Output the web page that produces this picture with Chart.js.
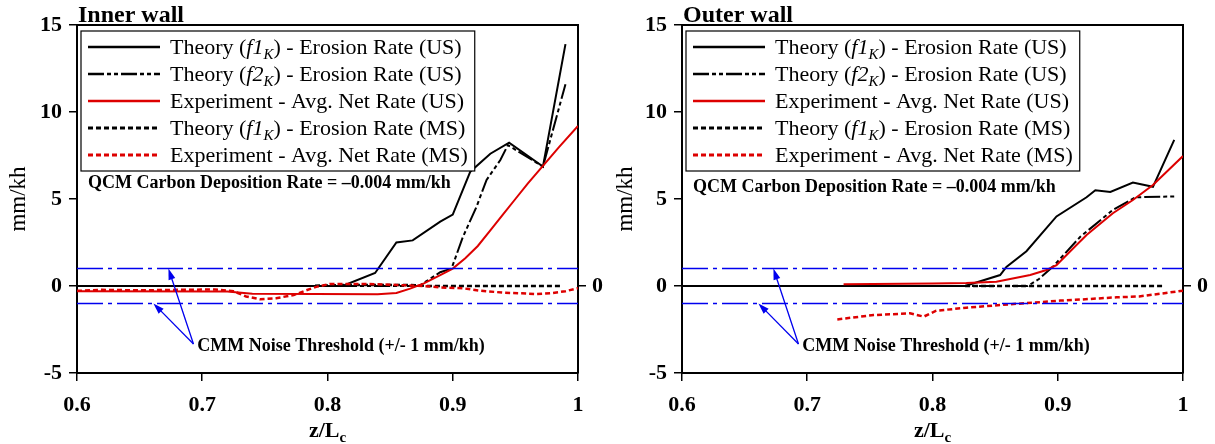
<!DOCTYPE html>
<html>
<head>
<meta charset="utf-8">
<title>Inner / Outer wall</title>
<script src="https://cdn.jsdelivr.net/npm/chart.js@4.4.1/dist/chart.umd.min.js"></script>
<style>
  html, body { margin: 0; padding: 0; background: #fff; }
  #wrap { position: relative; width: 1215px; height: 444px; }
  .panel { position: absolute; top: 0; height: 444px; }
  #p1 { left: 0; width: 607px; }
  #p2 { left: 607px; width: 608px; }
</style>
</head>
<body>
<div id="wrap">
  <div class="panel" id="p1"><canvas id="inner"></canvas></div>
  <div class="panel" id="p2"><canvas id="outer"></canvas></div>
</div>
<script>
// ---- values ----
var xTicks = [0.6, 0.7, 0.8, 0.9, 1];
var xTickLabels = ["0.6", "0.7", "0.8", "0.9", "1"];
var yTicks = [-5, 0, 5, 10, 15];
var yTickLabels = ["-5", "0", "5", "10", "15"];

var seriesLabels = [
  "Theory (f1K) - Erosion Rate (US)",
  "Theory (f2K) - Erosion Rate (US)",
  "Experiment - Avg. Net Rate (US)",
  "Theory (f1K) - Erosion Rate (MS)",
  "Experiment - Avg. Net Rate (MS)",
];

// CMM noise threshold
var noiseZ = [0.6, 1.0];
var noiseLevels = [1, -1];

// inner wall
var inF1usZ = [0.6, 0.812, 0.838, 0.855, 0.868, 0.89, 0.9, 0.914, 0.93, 0.945, 0.972, 0.99];
var inF1usV = [0, 0, 0.75, 2.5, 2.62, 3.7, 4.1, 6.57, 7.6, 8.24, 6.86, 13.9];
var inF2usZ = [0.6, 0.873, 0.89, 0.899, 0.908, 0.919, 0.927, 0.938, 0.944, 0.972, 0.99];
var inF2usV = [0, 0, 0.79, 1.0, 2.8, 4.56, 6.1, 7.24, 8.1, 6.86, 11.6];
var inExpUsZ = [0.6, 0.72, 0.74, 0.84, 0.855, 0.866, 0.877, 0.89, 0.9, 0.91, 0.92, 0.93, 0.94, 0.95, 0.96, 0.972, 0.985, 1.0];
var inExpUsV = [-0.3, -0.32, -0.45, -0.47, -0.4, -0.15, 0.15, 0.63, 1.0, 1.6, 2.3, 3.2, 4.1, 5.0, 5.9, 6.9, 8.0, 9.2];
var inF1msZ = [0.79, 0.82, 0.87, 0.88, 0.987];
var inF1msV = [0.02, 0.06, 0.05, 0, 0];
var inExpMsZ = [0.6, 0.62, 0.65, 0.68, 0.71, 0.725, 0.735, 0.746, 0.759, 0.773, 0.783, 0.791, 0.802, 0.83, 0.855, 0.877, 0.89, 0.908, 0.922, 0.94, 0.955, 0.967, 0.98, 0.99, 1.0];
var inExpMsV = [-0.28, -0.22, -0.25, -0.22, -0.2, -0.3, -0.6, -0.76, -0.7, -0.52, -0.25, -0.05, 0.12, 0.12, 0.06, 0.0, -0.08, -0.13, -0.27, -0.38, -0.42, -0.46, -0.4, -0.3, -0.12];

// outer wall
var outF1usZ = [0.6, 0.826, 0.854, 0.859, 0.875, 0.899, 0.923, 0.93, 0.942, 0.96, 0.976, 0.993];
var outF1usV = [0, 0, 0.63, 1.1, 2.0, 4.0, 5.1, 5.5, 5.4, 5.95, 5.7, 8.4];
var outF2usZ = [0.6, 0.876, 0.885, 0.896, 0.918, 0.944, 0.962, 0.993];
var outF2usV = [0, 0, 0.4, 1.1, 2.83, 4.37, 5.1, 5.15];
var outExpUsZ = [0.729, 0.8, 0.827, 0.851, 0.878, 0.891, 0.899, 0.91, 0.923, 0.944, 0.96, 0.976, 1.0];
var outExpUsV = [0.1, 0.15, 0.17, 0.25, 0.63, 0.92, 1.2, 2.0, 2.93, 4.18, 4.94, 5.8, 7.47];
var outF1msZ = [0.826, 0.984];
var outF1msV = [0, 0];
var outExpMsZ = [0.724, 0.753, 0.782, 0.793, 0.803, 0.827, 0.854, 0.88, 0.902, 0.92, 0.947, 0.965, 0.98, 1.0];
var outExpMsV = [-1.92, -1.67, -1.57, -1.76, -1.42, -1.25, -1.09, -0.96, -0.84, -0.77, -0.65, -0.6, -0.46, -0.27];

// annotation anchors (data units)
var arrowTail = [0.693, -3.33];
var arrowHeadZ = [0.673, 0.661];
var arrowHeadV = [1, -1];
var cmmText = "CMM Noise Threshold (+/- 1 mm/kh)";
var cmmPos = [0.696, -3.45];
var qcmText = "QCM Carbon Deposition Rate = \u20130.004 mm/kh";

var SERIF = "'Liberation Serif', 'Times New Roman', serif";
var RED = "#dd0000";
var BLUE = "#0000ee";

function pts(zs, vs) {
  return zs.map(function (z, i) {
    return { x: z, y: vs[i] };
  });
}

// legend label pieces, with the italic f1/K subscript
function richParts(label) {
  var m = label.match(/^(.*\()(f\d)(K)(\).*)$/);
  if (!m) return [{ t: label }];
  return [{ t: m[1] }, { t: m[2], it: true }, { t: m[3], it: true, sub: true }, { t: m[4] }];
}
function partFont(p, size) {
  var s = p.sub ? Math.round(size * 0.68) : size;
  return (p.it ? "italic " : "") + s + "px " + SERIF;
}
function richWidth(ctx, label, size) {
  var w = 0;
  richParts(label).forEach(function (p) {
    ctx.font = partFont(p, size);
    w += ctx.measureText(p.t).width;
  });
  return w;
}
function drawRich(ctx, label, x, y, size) {
  ctx.textAlign = "left";
  ctx.textBaseline = "alphabetic";
  var base = y + size * 0.33;
  richParts(label).forEach(function (p) {
    ctx.font = partFont(p, size);
    ctx.fillText(p.t, x, p.sub ? base + size * 0.22 : base);
    x += ctx.measureText(p.t).width;
  });
}

function arrow(ctx, x0, y0, x1, y1) {
  var a = Math.atan2(y1 - y0, x1 - x0);
  var len = 11, hw = 3.5;
  ctx.beginPath();
  ctx.moveTo(x0, y0);
  ctx.lineTo(x1 - Math.cos(a) * len * 0.8, y1 - Math.sin(a) * len * 0.8);
  ctx.stroke();
  ctx.beginPath();
  ctx.moveTo(x1, y1);
  ctx.lineTo(x1 - Math.cos(a) * len - Math.sin(a) * hw, y1 - Math.sin(a) * len + Math.cos(a) * hw);
  ctx.lineTo(x1 - Math.cos(a) * len + Math.sin(a) * hw, y1 - Math.sin(a) * len - Math.cos(a) * hw);
  ctx.closePath();
  ctx.fill();
}

// legend box, annotations and titles drawn over the plot
var decorPlugin = {
  id: "decor",
  afterDatasetsDraw: function (chart) {
    var ctx = chart.ctx;
    var ca = chart.chartArea;
    var xs = chart.scales.x, ys = chart.scales.y;
    var o = chart.options.plugins.decor;
    var size = 22, rowH = 27;
    var dsets = chart.data.datasets.filter(function (d) { return d.legendIndex !== undefined; });
    dsets.sort(function (a, b) { return a.legendIndex - b.legendIndex; });

    ctx.save();
    var left = ca.left + 4, top = ca.top + 6;
    var lx0 = ca.left + 11, lx1 = lx0 + 72, tx = lx1 + 10;
    var maxW = 0;
    dsets.forEach(function (d) { maxW = Math.max(maxW, richWidth(ctx, d.label, size)); });
    var right = tx + maxW + 7;
    var bottom = top + 32 + rowH * (dsets.length - 1);
    ctx.fillStyle = "#fff";
    ctx.fillRect(left, top, right - left, bottom - top);
    ctx.strokeStyle = "#000";
    ctx.lineWidth = 1.2;
    ctx.strokeRect(left, top, right - left, bottom - top);

    dsets.forEach(function (d, i) {
      var y = top + 16 + i * rowH;
      ctx.beginPath();
      ctx.strokeStyle = d.borderColor;
      ctx.lineWidth = d.borderWidth + 0.5;
      ctx.setLineDash(d.borderDash || []);
      ctx.moveTo(lx0, y);
      ctx.lineTo(lx1, y);
      ctx.stroke();
      ctx.setLineDash([]);
      ctx.fillStyle = "#000";
      drawRich(ctx, d.label, tx, y, size);
    });

    // QCM note
    ctx.fillStyle = "#000";
    ctx.font = "bold 18px " + SERIF;
    ctx.textAlign = "left";
    ctx.textBaseline = "middle";
    ctx.fillText(qcmText, lx0, ys.getPixelForValue(o.qcmV));

    // CMM note with arrows
    ctx.fillText(cmmText, xs.getPixelForValue(cmmPos[0]), ys.getPixelForValue(cmmPos[1]));
    ctx.strokeStyle = BLUE;
    ctx.fillStyle = BLUE;
    ctx.lineWidth = 1.3;
    for (var k = 0; k < arrowHeadZ.length; k++) {
      arrow(ctx,
        xs.getPixelForValue(arrowTail[0]), ys.getPixelForValue(arrowTail[1]),
        xs.getPixelForValue(arrowHeadZ[k]), ys.getPixelForValue(arrowHeadV[k]));
    }

    // panel title
    ctx.fillStyle = "#000";
    ctx.font = "bold 24px " + SERIF;
    ctx.textBaseline = "alphabetic";
    ctx.fillText(o.title, ca.left + 1, 22);

    // x axis title z/Lc
    ctx.font = "bold 22px " + SERIF;
    var w1 = ctx.measureText("z/L").width;
    ctx.font = "bold 15px " + SERIF;
    var w2 = ctx.measureText("c").width;
    var cx = (ca.left + ca.right) / 2 - (w1 + w2) / 2;
    ctx.font = "bold 22px " + SERIF;
    ctx.fillText("z/L", cx, 437);
    ctx.font = "bold 15px " + SERIF;
    ctx.fillText("c", cx + w1, 442);
    ctx.restore();
  },
};

function makeChart(id, title, s, leftW, rightW, qcmV) {
  var tickFont = { family: SERIF, size: 22, weight: "bold" };
  var datasets = [];
  noiseLevels.forEach(function (lv) {
    datasets.push({
      label: "noise",
      data: pts(noiseZ, [lv, lv]),
      borderColor: BLUE,
      borderWidth: 1.5,
      borderDash: [26, 5, 4, 5],
    });
  });
  datasets.push({ label: seriesLabels[4], legendIndex: 4, data: pts(s[8], s[9]), borderColor: RED, borderWidth: 2.5, borderDash: [5, 3] });
  datasets.push({ label: seriesLabels[2], legendIndex: 2, data: pts(s[4], s[5]), borderColor: RED, borderWidth: 2 });
  datasets.push({ label: seriesLabels[3], legendIndex: 3, data: pts(s[6], s[7]), borderColor: "#000", borderWidth: 2.5, borderDash: [5, 3] });
  datasets.push({ label: seriesLabels[1], legendIndex: 1, data: pts(s[2], s[3]), borderColor: "#000", borderWidth: 2, borderDash: [16, 3, 4, 3, 4, 3] });
  datasets.push({ label: seriesLabels[0], legendIndex: 0, data: pts(s[0], s[1]), borderColor: "#000", borderWidth: 2 });
  datasets.forEach(function (d) {
    d.xAxisID = "x";
    d.yAxisID = "y";
    d.pointRadius = 0;
    d.tension = 0;
    d.fill = false;
  });

  var axisGrid = { drawOnChartArea: false, drawTicks: true, tickLength: 8, color: "#000", lineWidth: 1.5 };
  var axisBorder = { display: true, color: "#000", width: 2 };

  return new Chart(document.getElementById(id).getContext("2d"), {
    type: "line",
    data: { datasets: datasets },
    options: {
      responsive: true,
      maintainAspectRatio: false,
      animation: false,
      layout: { padding: { top: 25, left: 0, right: 0, bottom: 0 } },
      plugins: {
        legend: { display: false },
        tooltip: { enabled: false },
        decor: { title: title, qcmV: qcmV },
      },
      scales: {
        x: {
          type: "linear",
          position: "bottom",
          min: 0.6,
          max: 1,
          afterBuildTicks: function (sc) {
            sc.ticks = xTicks.map(function (v) { return { value: v }; });
          },
          ticks: {
            autoSkip: false,
            maxRotation: 0,
            color: "#000",
            font: tickFont,
            padding: 11,
            callback: function (v, i) { return xTickLabels[i]; },
          },
          grid: axisGrid,
          border: axisBorder,
          afterFit: function (sc) { sc.height = 71; },
        },
        x2: {
          type: "linear",
          position: "top",
          min: 0.6,
          max: 1,
          ticks: { display: false },
          grid: { display: false },
          border: axisBorder,
          afterFit: function (sc) { sc.height = 0; },
        },
        y: {
          type: "linear",
          position: "left",
          min: -5,
          max: 15,
          afterBuildTicks: function (sc) {
            sc.ticks = yTicks.map(function (v) { return { value: v }; });
          },
          ticks: {
            color: "#000",
            font: tickFont,
            padding: 7,
            callback: function (v, i) { return yTickLabels[i]; },
          },
          title: {
            display: true,
            text: "mm/kh",
            color: "#000",
            font: { family: SERIF, size: 23 },
            padding: { top: 5, bottom: 0 },
          },
          grid: axisGrid,
          border: axisBorder,
          afterFit: function (sc) { sc.width = leftW; },
        },
        y2: {
          type: "linear",
          position: "right",
          min: -5,
          max: 15,
          afterBuildTicks: function (sc) {
            sc.ticks = [{ value: 0 }];
          },
          ticks: {
            color: "#000",
            font: tickFont,
            padding: 6,
            callback: function () { return "0"; },
          },
          grid: axisGrid,
          border: axisBorder,
          afterFit: function (sc) { sc.width = rightW; },
        },
      },
    },
    plugins: [decorPlugin],
  });
}

makeChart("inner", "Inner wall",
  [inF1usZ, inF1usV, inF2usZ, inF2usV, inExpUsZ, inExpUsV, inF1msZ, inF1msV, inExpMsZ, inExpMsV],
  77, 29, 5.92);
makeChart("outer", "Outer wall",
  [outF1usZ, outF1usV, outF2usZ, outF2usV, outExpUsZ, outExpUsV, outF1msZ, outF1msV, outExpMsZ, outExpMsV],
  75, 32, 5.65);
</script>
</body>
</html>
